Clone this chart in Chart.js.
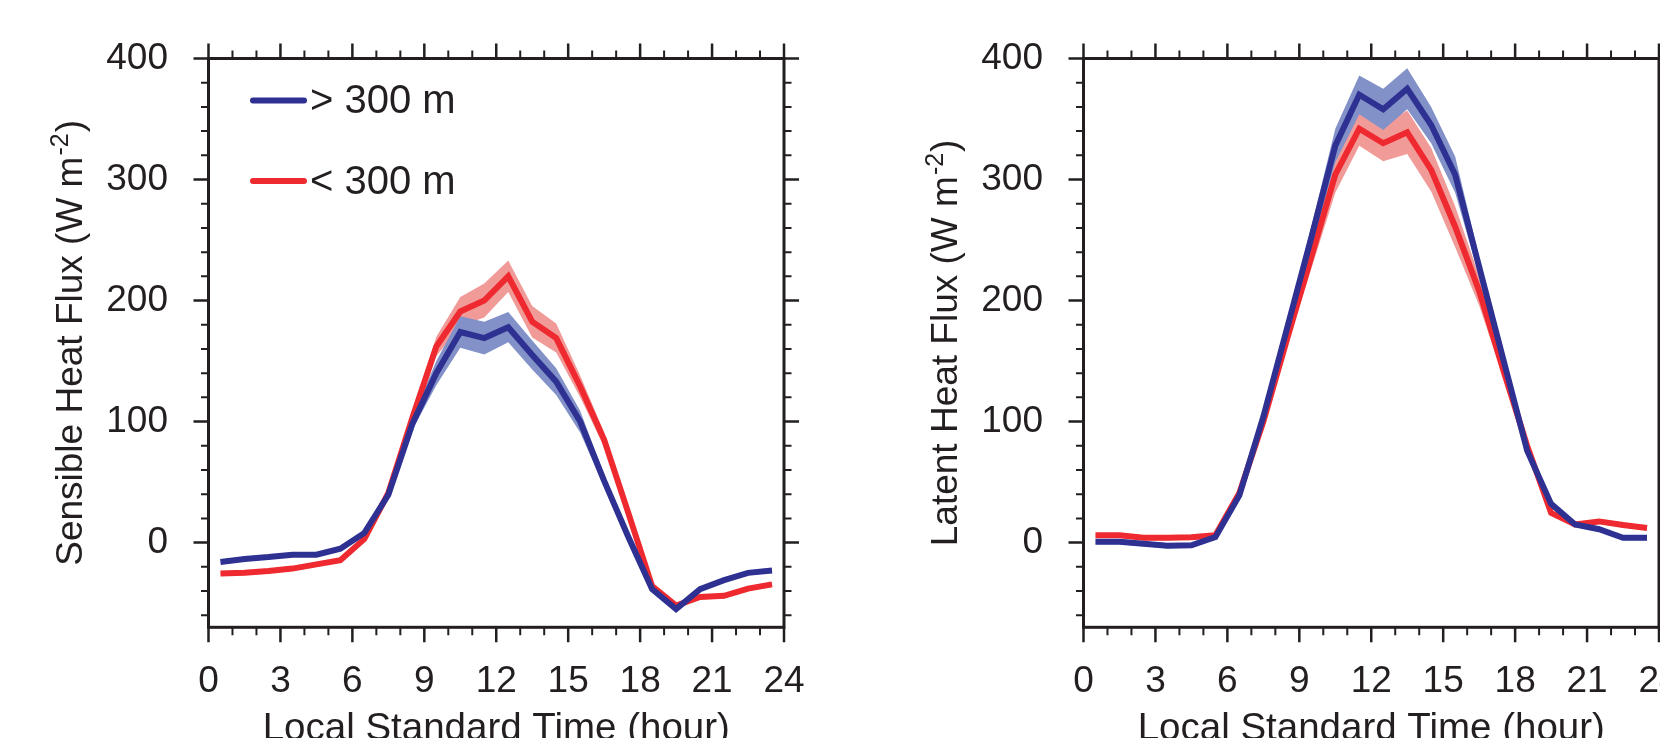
<!DOCTYPE html>
<html>
<head>
<meta charset="utf-8">
<script src="https://cdn.jsdelivr.net/npm/chart.js@4.4.0/dist/chart.umd.min.js"></script>
<style>
  html, body { margin: 0; padding: 0; background: #fff; overflow: hidden; width: 1660px; height: 738px; }
  .panel { position: absolute; top: 0; }
</style>
</head>
<body>
<canvas id="sensibleChart" class="panel" width="860" height="780" style="left:0px"></canvas>
<canvas id="latentChart" class="panel" width="860" height="780" style="left:875px"></canvas>
<script>
// hour of day (half-hour centres)
const hours = [0.5, 1.5, 2.5, 3.5, 4.5, 5.5, 6.5, 7.5, 8.5, 9.5, 10.5, 11.5,
               12.5, 13.5, 14.5, 15.5, 16.5, 17.5, 18.5, 19.5, 20.5, 21.5, 22.5, 23.5];

const legendLabels = ['> 300 m', '< 300 m'];

// Sensible heat flux (W m-2)
const sensibleHigh = [-16, -13.5, -12, -10, -10, -5, 8, 39.5, 98, 140, 174, 169,
                      178, 155, 133, 100, 51, 5, -38.5, -55, -38.5, -31, -25, -23];
const sensibleHighSpread = [2, 2, 2, 2, 2, 2, 2, 3, 5, 10, 13, 13.5,
                            12.5, 12, 11, 9, 5, 3, 2, 2, 2, 2, 2, 2];
const sensibleLow = [-25.5, -25, -23.5, -21.5, -18, -14.5, 3, 41, 103, 162, 191, 200,
                     220, 182.5, 169, 129, 85, 25, -36, -52, -45, -44, -38, -34.5];
const sensibleLowSpread = [2, 2, 2, 2, 2, 2, 2, 3, 4, 8, 12, 14,
                           13, 13, 12, 9, 6, 3, 2, 2, 2, 2, 2, 2];

// Latent heat flux (W m-2)
const latentHigh = [0.7, 0.7, -1, -2.6, -2.3, 4.5, 39, 104, 178, 252, 328, 370,
                    358, 375, 345, 304, 228, 152, 76, 32, 15, 11, 4, 4];
const latentHighSpread = [2, 2, 2, 2, 2, 2, 3, 4, 6, 9, 14, 16,
                          17, 17, 15, 15, 8, 4, 3, 2, 2, 2, 2, 2];
const latentLow = [6, 6, 4, 4, 4.5, 6, 41, 100, 169, 236, 304, 342,
                   330, 339, 308, 261, 208, 143, 80, 24.5, 15, 17.5, 14.5, 12];
const latentLowSpread = [2, 2, 2, 2, 2, 2, 3, 4, 6, 10, 15, 14,
                         15, 18, 18, 17, 12, 6, 3, 2, 2, 2, 2, 2];

const INK = '#231f20';
const FONT = '"Liberation Sans", Arial, Helvetica, sans-serif';
const BLUE = '#2e3192';
const RED = '#ee2a30';
const BLUE_BAND = '#8291c8';
const RED_BAND = '#f19b99';

// frame box + outward ticks on all four sides
const frameTicks = {
  id: 'frameTicks',
  afterDatasetsDraw(chart) {
    const {ctx, chartArea: a, scales: {x, y}} = chart;
    ctx.save();
    ctx.strokeStyle = INK;
    ctx.lineCap = 'butt';
    for (let h = 0; h <= 24; h++) {
      const px = x.getPixelForValue(h);
      const major = h % 3 === 0;
      const len = major ? 15 : 8;
      ctx.lineWidth = major ? 2.5 : 2;
      ctx.beginPath();
      ctx.moveTo(px, a.bottom); ctx.lineTo(px, a.bottom + len);
      ctx.moveTo(px, a.top); ctx.lineTo(px, a.top - len);
      ctx.stroke();
    }
    for (let v = -60; v <= 400; v += 20) {
      const py = y.getPixelForValue(v);
      const major = v % 100 === 0;
      const len = major ? 15 : 7.5;
      ctx.lineWidth = major ? 2.5 : 2;
      ctx.beginPath();
      ctx.moveTo(a.left, py); ctx.lineTo(a.left - len, py);
      ctx.moveTo(a.right, py); ctx.lineTo(a.right + len, py);
      ctx.stroke();
    }
    ctx.lineWidth = 3;
    ctx.strokeRect(a.left, a.top, a.right - a.left, a.bottom - a.top);
    ctx.restore();
  }
};

// rotated y title with a superscript exponent
const yTitle = {
  id: 'yTitle',
  afterDraw(chart, args, opts) {
    const {ctx, chartArea: a} = chart;
    const big = '37px ' + FONT, small = '25px ' + FONT;
    ctx.save();
    ctx.translate(opts.x, (a.top + a.bottom) / 2);
    ctx.rotate(-Math.PI / 2);
    ctx.fillStyle = INK;
    ctx.textBaseline = 'alphabetic';
    ctx.textAlign = 'left';
    ctx.font = big;
    const w1 = ctx.measureText(opts.text).width;
    const w3 = ctx.measureText(')').width;
    ctx.font = small;
    const w2 = ctx.measureText('-2').width;
    const x0 = -(w1 + w2 + w3 + 2) / 2;
    ctx.font = big;
    ctx.fillText(opts.text, x0, 0);
    ctx.font = small;
    ctx.fillText('-2', x0 + w1 + 1, -14);
    ctx.font = big;
    ctx.fillText(')', x0 + w1 + w2 + 2, 0);
    ctx.restore();
  }
};

// legend drawn inside the left panel
const legendBox = {
  id: 'legendBox',
  afterDraw(chart, args, opts) {
    if (!opts.show) return;
    const ctx = chart.ctx;
    const colors = [BLUE, RED];
    ctx.save();
    legendLabels.forEach((lab, i) => {
      const yy = 100.5 + i * 80.5;
      ctx.strokeStyle = colors[i];
      ctx.lineWidth = 6;
      ctx.lineCap = 'round';
      ctx.beginPath();
      ctx.moveTo(253, yy); ctx.lineTo(304, yy);
      ctx.stroke();
      ctx.fillStyle = INK;
      ctx.font = '40px ' + FONT;
      ctx.textBaseline = 'middle';
      ctx.textAlign = 'left';
      ctx.fillText(lab, 310, yy + 1.5);
    });
    ctx.restore();
  }
};

function makeChart(id, high, highSpread, low, lowSpread, title, showLegend) {
  const pts = vals => vals.map((v, i) => ({x: hours[i], y: v}));
  const bound = (vals, spread, sign) => vals.map((v, i) => ({x: hours[i], y: v + sign * spread[i]}));
  const bandStyle = {borderWidth: 0, borderColor: 'transparent', pointRadius: 0, tension: 0};

  return new Chart(document.getElementById(id), {
    type: 'line',
    data: {
      datasets: [
        {label: legendLabels[0], data: pts(high), borderColor: BLUE, borderWidth: 6, pointRadius: 0, fill: false},
        {label: legendLabels[1], data: pts(low), borderColor: RED, borderWidth: 6, pointRadius: 0, fill: false},
        Object.assign({data: bound(high, highSpread, 1), fill: '+1', backgroundColor: BLUE_BAND}, bandStyle),
        Object.assign({data: bound(high, highSpread, -1), fill: false}, bandStyle),
        Object.assign({data: bound(low, lowSpread, 1), fill: '+1', backgroundColor: RED_BAND}, bandStyle),
        Object.assign({data: bound(low, lowSpread, -1), fill: false}, bandStyle)
      ]
    },
    options: {
      responsive: false,
      animation: false,
      devicePixelRatio: 1,
      layout: {padding: {top: 58.5, right: 76, bottom: 27.4, left: 0}},
      plugins: {
        legend: {display: false},
        tooltip: {enabled: false},
        yTitle: {text: title, x: 81.5},
        legendBox: {show: showLegend}
      },
      scales: {
        x: {
          type: 'linear', min: 0, max: 24,
          grid: {display: false, drawTicks: true, tickLength: 32},
          border: {display: false},
          ticks: {stepSize: 3, padding: 0, color: INK, font: {family: FONT, size: 37}, maxRotation: 0, autoSkip: false},
          title: {display: true, text: 'Local Standard Time (hour)', color: INK, font: {family: FONT, size: 38.5}, padding: 0},
          afterFit: s => { s.height = 125.3; }
        },
        y: {
          min: -70, max: 400,
          grid: {display: false, drawTicks: true, tickLength: 40.5},
          border: {display: false},
          ticks: {stepSize: 100, includeBounds: false, padding: 0, color: INK, font: {family: FONT, size: 37}},
          afterFit: s => { s.width = 208.5; }
        }
      }
    },
    plugins: [frameTicks, yTitle, legendBox]
  });
}

makeChart('sensibleChart', sensibleHigh, sensibleHighSpread, sensibleLow, sensibleLowSpread, 'Sensible Heat Flux (W m', true);
makeChart('latentChart', latentHigh, latentHighSpread, latentLow, latentLowSpread, 'Latent Heat Flux (W m', false);
</script>
</body>
</html>
